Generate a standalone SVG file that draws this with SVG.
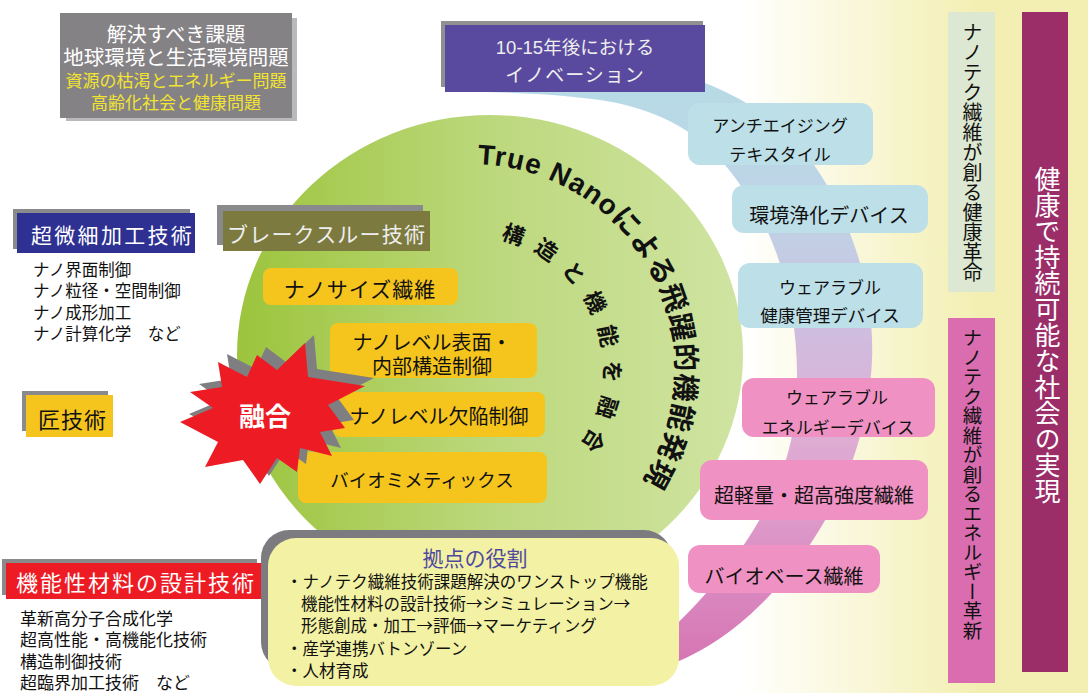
<svg xmlns="http://www.w3.org/2000/svg" width="1088" height="693" viewBox="0 0 1088 693">
<defs>
<linearGradient id="bgY" x1="740" y1="0" x2="980" y2="0" gradientUnits="userSpaceOnUse">
<stop offset="0" stop-color="#ffffff"/><stop offset="1" stop-color="#f3efb2"/>
</linearGradient>
<linearGradient id="green" x1="237" y1="0" x2="743" y2="0" gradientUnits="userSpaceOnUse">
<stop offset="0" stop-color="#9cc43c"/><stop offset="0.5" stop-color="#bcd87c"/><stop offset="1" stop-color="#d0e4a2"/>
</linearGradient>
<linearGradient id="band" x1="0" y1="70" x2="0" y2="660" gradientUnits="userSpaceOnUse">
<stop offset="0" stop-color="#b6dbe6"/><stop offset="0.25" stop-color="#bfd3e6"/><stop offset="0.42" stop-color="#cdbfe0"/><stop offset="0.6" stop-color="#deb0d6"/><stop offset="0.78" stop-color="#dc97c8"/><stop offset="1" stop-color="#d676b4"/>
</linearGradient>
<path id="arcA" d="M 477.2 164.1 A 206 206 0 0 1 615.7 515.7"/>
<path id="arcB" d="M 500.2 239.5 A 134 134 0 0 1 564.8 464.8"/>
<polygon id="star" points="180,422 213,408 190,392 222,387 218,362 247,377 257,355 277,370 305,343 308,377 365,386 328,405 345,428 320,432 332,456 300,448 297,472 277,458 260,484 243,460 205,467 218,442"/>
</defs>
<style>
text { font-family: 'Liberation Sans', 'Noto Sans CJK JP', sans-serif; }
.jpf { font-family: 'Noto Sans CJK JP', sans-serif; }
.blk { fill: #111111; }
.wht { fill: #ffffff; }
.c { text-anchor: middle; }
.shadow { fill: #8a8a8c; }
.blue { fill: #bddfe8; }
.pink { fill: #ef92c3; }
.ybox { fill: #f5c51d; }
.vert { writing-mode: vertical-rl; }
</style>

<rect x="0" y="0" width="1088" height="693" fill="#ffffff"/>
<rect x="680" y="0" width="408" height="693" fill="url(#bgY)"/>

<g id="band-arc">
<path d="M 450 40 C 600 45 720 70 790 135 C 850 200 875 290 872 360 C 868 450 830 530 770 595 C 735 632 700 655 660 668 L 660 640 C 720 585 780 510 793 430 C 805 350 790 260 750 200 C 720 150 680 112 600 100 C 540 92 480 92 450 92 Z" fill="url(#band)"/>
</g>

<g id="circle">
<ellipse cx="490" cy="355" rx="253" ry="240" fill="url(#green)"/>
</g>

<g id="issues">
<rect x="66" y="18" width="231" height="103" fill="#b9b8bb"/>
<rect x="60" y="13" width="232" height="105" fill="#858286"/>
<text x="176" y="42" class="c wht" font-size="20">解決すべき課題</text>
<text x="176" y="65" class="c wht" font-size="20.5">地球環境と生活環境問題</text>
<text x="176" y="87" class="c" fill="#f2e431" font-size="17">資源の枯渇とエネルギー問題</text>
<text x="176" y="109" class="c" fill="#f2e431" font-size="17">高齢化社会と健康問題</text>
</g>

<g id="innovation">
<rect x="441" y="21" width="262" height="66" fill="#909090"/>
<rect x="445" y="25" width="260" height="67" fill="#5a4a9f"/>
<text x="575" y="54" class="c" fill="#eeeeee" font-size="18.5">10-15年後における</text>
<text x="575" y="82" class="c" fill="#eeeeee" font-size="19" letter-spacing="1">イノベーション</text>
</g>

<g id="ultrafine">
<rect x="13" y="209" width="177" height="40" class="shadow"/>
<rect x="17" y="213" width="178" height="40" fill="#2e3192"/>
<text x="31" y="243" class="wht" font-size="21" letter-spacing="2.3">超微細加工技術</text>
<text x="33" y="276" class="blk" font-size="16.5">ナノ界面制御</text>
<text x="33" y="297" class="blk" font-size="16.5">ナノ粒径・空間制御</text>
<text x="33" y="319" class="blk" font-size="16.5">ナノ成形加工</text>
<text x="33" y="340" class="blk" font-size="16.5">ナノ計算化学　など</text>
</g>

<g id="breakthrough">
<rect x="217" y="205" width="206" height="40" class="shadow"/>
<rect x="223" y="211" width="207" height="40" fill="#7c7a3e"/>
<text x="227" y="242" fill="#eeeeee" font-size="21" letter-spacing="1.2">ブレークスルー技術</text>
</g>

<g id="takumi">
<rect x="22" y="391" width="86" height="40" class="shadow"/>
<rect x="26" y="395" width="87" height="42" class="ybox"/>
<text x="38" y="428" class="blk" font-size="22" letter-spacing="1">匠技術</text>
</g>

<g id="materials">
<rect x="2" y="559" width="255" height="36" class="shadow"/>
<rect x="6" y="563" width="256" height="36" fill="#ed1c24"/>
<text x="16" y="591" class="wht" font-size="22" letter-spacing="2">機能性材料の設計技術</text>
<text x="20" y="625" class="blk" font-size="17">革新高分子合成化学</text>
<text x="20" y="646" class="blk" font-size="17">超高性能・高機能化技術</text>
<text x="20" y="668" class="blk" font-size="17">構造制御技術</text>
<text x="20" y="689" class="blk" font-size="17">超臨界加工技術　など</text>
</g>

<g id="nanosize">
<rect x="263" y="268" width="195" height="37" rx="8" class="ybox"/>
<text x="360" y="297" class="c blk" font-size="21" letter-spacing="1">ナノサイズ繊維</text>
</g>
<g id="surface">
<rect x="330" y="323" width="207" height="55" rx="8" class="ybox"/>
<text x="432" y="350" class="c blk" font-size="20">ナノレベル表面・</text>
<text x="432" y="374" class="c blk" font-size="20">内部構造制御</text>
</g>
<g id="defect">
<rect x="333" y="392" width="212" height="45" rx="8" class="ybox"/>
<text x="439" y="424" class="c blk" font-size="20">ナノレベル欠陥制御</text>
</g>
<g id="biomimetics">
<rect x="298" y="452" width="249" height="51" rx="8" class="ybox"/>
<text x="422" y="487" class="c blk" font-size="18.5">バイオミメティックス</text>
</g>

<g id="fusion">
<use href="#star" transform="translate(9,-8)" fill="#7f7f82"/>
<use href="#star" fill="#ed1c24"/>
<text x="265" y="426" class="c wht" font-size="26" font-weight="bold">融合</text>
</g>

<g id="arc-text">
<text font-size="28" font-weight="bold" class="blk" letter-spacing="1"><textPath href="#arcA">True Nanoによる飛躍的機能発現</textPath></text>
<text font-size="22" font-weight="bold" class="blk" letter-spacing="12"><textPath href="#arcB">構造と機能を融合</textPath></text>
</g>

<g id="antiaging">
<rect x="688" y="103" width="185" height="62" rx="12" class="blue"/>
<text x="780" y="132" class="c blk" font-size="17">アンチエイジング</text>
<text x="780" y="161" class="c blk" font-size="17">テキスタイル</text>
</g>
<g id="purify">
<rect x="732" y="185" width="196" height="48" rx="12" class="blue"/>
<text x="829" y="223" class="c blk" font-size="20">環境浄化デバイス</text>
</g>
<g id="wearable-health">
<rect x="738" y="263" width="185" height="65" rx="12" class="blue"/>
<text x="830" y="294" class="c blk" font-size="17">ウェアラブル</text>
<text x="830" y="322" class="c blk" font-size="17.5">健康管理デバイス</text>
</g>
<g id="wearable-energy">
<rect x="742" y="378" width="193" height="59" rx="12" class="pink"/>
<text x="837" y="404" class="c blk" font-size="17">ウェアラブル</text>
<text x="838" y="434" class="c blk" font-size="17">エネルギーデバイス</text>
</g>
<g id="lightweight">
<rect x="700" y="460" width="228" height="60" rx="12" class="pink"/>
<text x="814" y="503" class="c blk" font-size="20">超軽量・超高強度繊維</text>
</g>
<g id="biobase">
<rect x="688" y="545" width="192" height="48" rx="12" class="pink"/>
<text x="784" y="584" class="c blk" font-size="20">バイオベース繊維</text>
</g>

<g id="hub">
<rect x="261" y="530" width="411" height="140" rx="28" fill="#7b7b80"/>
<rect x="268" y="538" width="411" height="148" rx="28" fill="#f3f1a3"/>
<text x="475" y="566" class="c" fill="#4f4aa0" font-size="21">拠点の役割</text>
<text x="286" y="588" class="blk" font-size="16.5">・ナノテク繊維技術課題解決のワンストップ機能</text>
<text x="301" y="610" class="blk" font-size="16.5">機能性材料の設計技術<tspan class="jpf">→</tspan>シミュレーション<tspan class="jpf">→</tspan></text>
<text x="301" y="632" class="blk" font-size="16.5">形態創成・加工<tspan class="jpf">→</tspan>評価<tspan class="jpf">→</tspan>マーケティング</text>
<text x="286" y="655" class="blk" font-size="16.5">・産学連携バトンゾーン</text>
<text x="286" y="677" class="blk" font-size="16.5">・人材育成</text>
</g>

<g id="health-revolution">
<rect x="948" y="12" width="47" height="280" fill="#dde8d2"/>
<text x="971" y="22" class="vert blk" font-size="20">ナノテク繊維が創る健康革命</text>
</g>
<g id="energy-revolution">
<rect x="948" y="318" width="47" height="365" fill="#d96db0"/>
<text x="971" y="328" class="vert blk" font-size="19.5">ナノテク繊維が創るエネルギー革新</text>
</g>
<g id="sustainable">
<rect x="1022" y="12" width="46" height="660" fill="#9b2d69"/>
<text x="1045" y="166" class="vert wht" font-size="26">健康で持続可能な社会の実現</text>
</g>
</svg>
